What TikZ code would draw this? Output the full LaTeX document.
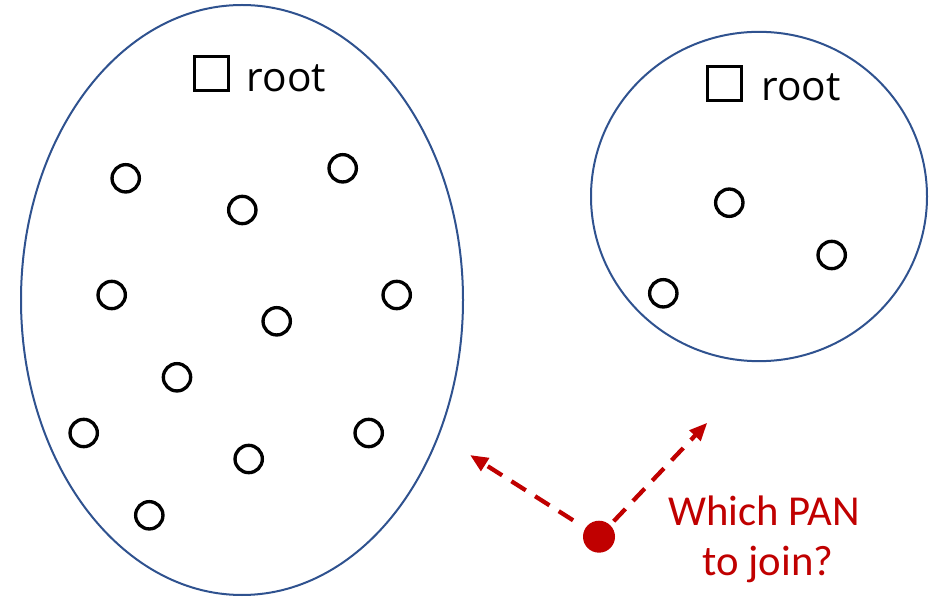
\documentclass[tikz,border=0pt]{standalone}
\usepackage{fontspec}
\setmainfont{Carlito}
\newfontfamily\rootfont{Open Sans}
\usetikzlibrary{arrows.meta,shapes.geometric}
\definecolor{panblue}{RGB}{47,82,143}
\definecolor{panred}{RGB}{192,0,0}
\tikzset{
  pan/.style={draw=panblue, line width=1.5pt, ellipse, inner sep=0pt},
  dev/.style={draw=black, line width=2.5pt, circle, inner sep=0pt, minimum size=20.5pt},
  rootbox/.style={draw=black, line width=2.4pt, rectangle, inner sep=0pt, minimum size=25.5pt},
  rootlabel/.style={anchor=base west, inner sep=0pt, font=\rootfont\fontsize{30.5}{36}\selectfont},
  arr/.style={draw=panred, line width=3.2pt, dash pattern=on 12.75pt off 8.25pt,
    -{Triangle[length=13.5pt,width=11pt]}},
  question/.style={text=panred, inner sep=0pt, anchor=base, font=\fontsize{32}{37.5}\selectfont},
}
\begin{document}
\begin{tikzpicture}[x=0.75pt,y=-0.75pt]
\useasboundingbox (0,0) rectangle (939,598);
% left PAN
\node[pan, minimum width=331.5pt, minimum height=442.5pt] (pan1) at (242,300) {};
\node[rootbox] (root1) at (211.5,73.5) {};
\node[rootlabel] (root1l) at (246.5,91.5) {root};
\node[dev] (a1) at (125.7,178.3) {};
\node[dev] (a2) at (242.3,210) {};
\node[dev] (a3) at (342.7,168.3) {};
\node[dev] (a4) at (111.7,295) {};
\node[dev] (a5) at (396.7,295) {};
\node[dev] (a6) at (276.7,321.3) {};
\node[dev] (a7) at (177,377.3) {};
\node[dev] (a8) at (83.7,433) {};
\node[dev] (a9) at (248.7,459) {};
\node[dev] (a10) at (368.7,433) {};
\node[dev] (a11) at (149.3,515.3) {};
% right PAN
\node[pan, minimum width=252pt, minimum height=247pt] (pan2) at (759,196.5) {};
\node[rootbox] (root2) at (724.3,83.3) {};
\node[rootlabel] (root2l) at (761,100.7) {root};
\node[dev] (b1) at (729.3,202.7) {};
\node[dev] (b2) at (831.7,255) {};
\node[dev] (b3) at (663.3,293.3) {};
% joining device
\node[circle, fill=panred, inner sep=0pt, minimum size=24pt] (dot) at (599,536.7) {};
\coordinate (t1) at (470,455);
\coordinate (t2) at (707.3,422.7);
\draw[arr, shorten <=23pt] (dot.center) -- (t1);
\draw[arr, shorten <=16pt] (dot.center) -- (t2);
\node[question] (q1) at (764,525) {Which PAN};
\node[question] (q2) at (768,575) {to join?};
\end{tikzpicture}
\end{document}
